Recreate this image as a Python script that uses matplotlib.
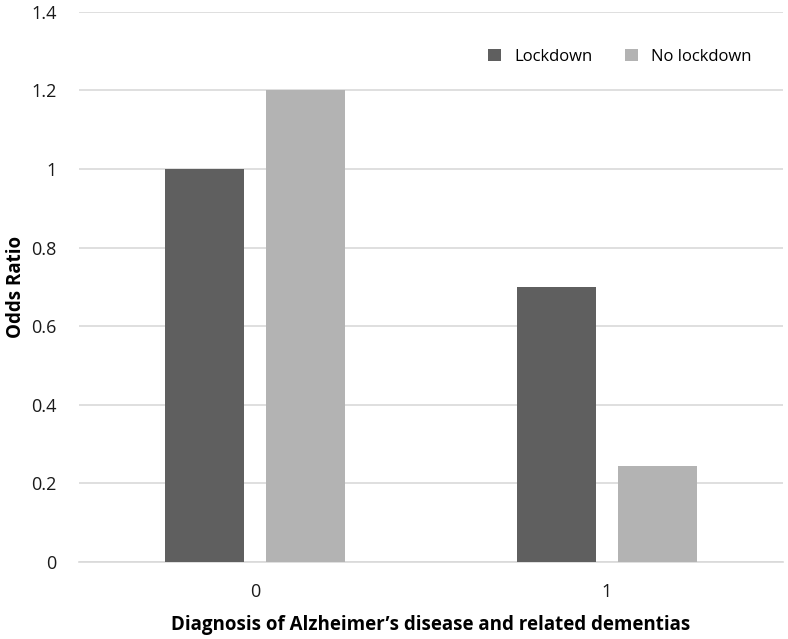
import matplotlib
matplotlib.use("Agg")
import matplotlib.pyplot as plt
import numpy as np

categories = ["0", "1"]
series_names = ["Lockdown", "No lockdown"]
lockdown = [1.0, 0.7]
no_lockdown = [1.2, 0.245]
yticks = [0, 0.2, 0.4, 0.6, 0.8, 1, 1.2, 1.4]
ytick_labels = ["0", "0.2", "0.4", "0.6", "0.8", "1", "1.2", "1.4"]

plt.rcParams['font.family'] = ['Open Sans', 'DejaVu Sans']

fig = plt.figure(figsize=(7.88, 6.39), dpi=100)
ax = fig.add_axes([79/788, 1-562/639, (783-79)/788, (562-11.7)/639])

x = np.arange(len(categories))
w = 0.224
off = 0.144
ax.bar(x - off, lockdown, width=w, color="#5f5f5f", label=series_names[0], zorder=3)
ax.bar(x + off, no_lockdown, width=w, color="#b3b3b3", label=series_names[1], zorder=3)

ax.set_xlim(-0.5, 1.5)
ax.set_ylim(0, 1.4)
ax.set_yticks(yticks)
ax.set_yticklabels(ytick_labels)
ax.set_xticks(x)
ax.set_xticklabels(categories)
ax.yaxis.grid(True, color="#d9d9d9", linewidth=1.2, zorder=0)
ax.set_axisbelow(True)
for s in ["top", "right", "left"]:
    ax.spines[s].set_visible(False)
ax.spines["bottom"].set_color("#d9d9d9")
ax.spines["bottom"].set_linewidth(1.2)
ax.tick_params(axis="y", length=0, pad=16, labelsize=13, labelcolor="#1a1a1a")
ax.tick_params(axis="x", length=0, pad=15, labelsize=13, labelcolor="#1a1a1a")

ax.set_ylabel("Odds Ratio", fontsize=13.5, fontweight="bold", labelpad=4)
ax.set_xlabel("Diagnosis of Alzheimer\u2019s disease and related dementias",
              fontsize=13.5, fontweight="bold", labelpad=10)

leg = ax.legend(loc="upper right", bbox_to_anchor=(0.977, 0.96), ncol=2, frameon=False,
                fontsize=12, handlelength=0.75, handleheight=0.75, handletextpad=0.8,
                columnspacing=2.0)

fig.savefig("out.png", dpi=100)
